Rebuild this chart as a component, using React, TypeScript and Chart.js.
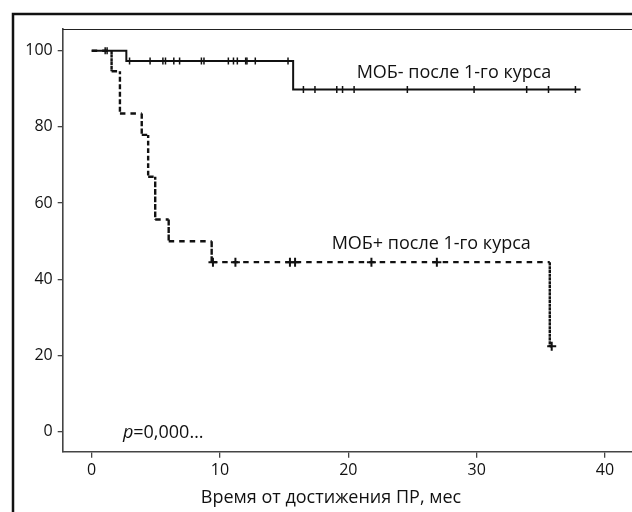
import React, { useEffect, useRef } from 'react';
import { Chart, registerables } from 'chart.js';

Chart.register(...registerables);

// ---- axis ticks ----
const xTickValues = [0, 10, 20, 30, 40];
const yTickValues = [0, 20, 40, 60, 80, 100];

// ---- МОБ- после 1-го курса (solid) ----
const negEventTimes = [2.7, 15.7];
const negSurvival = [97.3, 89.8];
const negEndTime = 38.1;
const negCensorTimes = [
  1.05, 1.2, 2.95, 4.55, 5.55, 5.75, 6.4, 6.85, 8.55, 8.75, 10.65, 11.05, 11.35,
  12.0, 12.1, 12.75, 15.3, 16.5, 17.4, 19.1, 19.55, 20.45, 24.6, 29.8, 33.9, 35.6, 37.7,
];

// ---- МОБ+ после 1-го курса (dashed) ----
const posEventTimes = [1.55, 2.2, 3.9, 4.4, 4.95, 6.0, 9.35, 35.7];
const posSurvival = [94.6, 83.5, 77.9, 66.9, 55.7, 50.0, 44.5, 22.4];
const posEndTime = 35.85;
const posCensorTimes = [9.45, 11.2, 15.45, 15.85, 21.8, 26.9, 35.85];

// ---- texts ----
const labelNeg = 'МОБ- после 1-го курса';
const labelPos = 'МОБ+ после 1-го курса';
const pItalic = 'p';
const pRest = '=0,000…';
const xTitle = 'Время от достижения ПР, мес';

// text anchors (data coordinates)
const negLabelAt = { x: 20.65, y: 92.8 };
const posLabelAt = { x: 18.7, y: 47.9 };
const pLabelAt = { x: 2.43, y: -1.6 };
const xTitleCenterX = 18.65;

type Pt = { x: number; y: number };

function stepPoints(times: number[], surv: number[], end: number): Pt[] {
  const pts: Pt[] = [{ x: 0, y: 100 }];
  let prev = 100;
  times.forEach((t, i) => {
    pts.push({ x: t, y: prev });
    pts.push({ x: t, y: surv[i] });
    prev = surv[i];
  });
  pts.push({ x: end, y: prev });
  return pts;
}

function survivalAt(times: number[], surv: number[], t: number): number {
  let s = 100;
  times.forEach((et, i) => {
    if (et <= t) s = surv[i];
  });
  return s;
}

const FONT = '"Open Sans", "Noto Sans", sans-serif';

const annotPlugin = {
  id: 'annot',
  afterDraw(chart: any) {
    const { ctx, chartArea } = chart;
    const xs = chart.scales.x;
    const ys = chart.scales.y;
    ctx.save();
    // inner top border
    ctx.strokeStyle = '#222';
    ctx.lineWidth = 1.2;
    ctx.beginPath();
    const ty = Math.round(chartArea.top) + 0.5;
    ctx.moveTo(chartArea.left, ty);
    ctx.lineTo(chart.width + 10, ty);
    ctx.stroke();
    // outer frame
    ctx.strokeStyle = '#111';
    ctx.lineWidth = 2.5;
    ctx.strokeRect(13, 14, chart.width + 100, chart.height + 100);

    ctx.fillStyle = '#111';
    ctx.textBaseline = 'alphabetic';
    ctx.textAlign = 'left';
    ctx.font = `18px ${FONT}`;
    ctx.fillText(labelNeg, xs.getPixelForValue(negLabelAt.x), ys.getPixelForValue(negLabelAt.y));
    ctx.fillText(labelPos, xs.getPixelForValue(posLabelAt.x), ys.getPixelForValue(posLabelAt.y));

    // p-value
    const px = xs.getPixelForValue(pLabelAt.x);
    const py = ys.getPixelForValue(pLabelAt.y);
    ctx.font = `italic 18px ${FONT}`;
    ctx.fillText(pItalic, px, py);
    const w = ctx.measureText(pItalic).width;
    ctx.font = `18px ${FONT}`;
    ctx.fillText(pRest, px + w, py);

    // x title
    ctx.textAlign = 'center';
    ctx.fillText(xTitle, xs.getPixelForValue(xTitleCenterX), chart.height - 9.3);
    ctx.restore();
  },
};

export default function App() {
  const ref = useRef<HTMLCanvasElement>(null);

  useEffect(() => {
    if (!ref.current) return;
    const negLine = stepPoints(negEventTimes, negSurvival, negEndTime);
    const posLine = stepPoints(posEventTimes, posSurvival, posEndTime);
    const negCens = negCensorTimes.map((t) => ({ x: t, y: survivalAt(negEventTimes, negSurvival, t) }));
    const posCens = posCensorTimes.map((t) => ({ x: t, y: survivalAt(posEventTimes, posSurvival, t) }));

    const tickFont = { family: FONT, size: 16 };

    const chart = new Chart(ref.current, {
      type: 'line',
      data: {
        datasets: [
          {
            label: labelNeg,
            data: negLine,
            borderColor: '#111',
            borderWidth: 2,
            pointRadius: 0,
            fill: false,
            tension: 0,
          },
          {
            label: labelNeg + ' censored',
            data: negCens,
            showLine: false,
            pointStyle: 'line',
            rotation: 90,
            pointRadius: 3.5,
            pointBorderWidth: 1.5,
            pointBorderColor: '#111',
            pointBackgroundColor: '#111',
          },
          {
            label: labelPos + ' censored',
            data: posCens,
            showLine: false,
            pointStyle: 'cross',
            pointRadius: 4.5,
            pointBorderWidth: 2,
            pointBorderColor: '#111',
            pointBackgroundColor: '#111',
          },
          {
            label: labelPos,
            data: posLine,
            borderColor: '#111',
            borderWidth: 2.4,
            pointRadius: 0,
            fill: false,
            tension: 0,
            segment: {
              borderDash: (c: any) => (c.p0.parsed.x === c.p1.parsed.x ? [3, 4.5] : [5.5, 5]),
            },
          },
        ] as any,
      },
      options: {
        responsive: false,
        animation: false,
        devicePixelRatio: 1,
        layout: { padding: { top: 29, right: 40, bottom: 0, left: 0 } },
        plugins: { legend: { display: false }, tooltip: { enabled: false }, title: { display: false } },
        scales: {
          x: {
            type: 'linear',
            min: -2.26,
            max: 44.29,
            afterBuildTicks: (s: any) => {
              s.ticks = xTickValues.map((v) => ({ value: v }));
            },
            afterFit: (s: any) => {
              s.height = 60.3;
            },
            ticks: { font: tickFont, color: '#111', padding: 3, maxRotation: 0, autoSkip: false },
            grid: { display: true, drawOnChartArea: false, drawTicks: true, tickLength: 6, color: '#444', lineWidth: 1.3 },
            border: { display: true, color: '#444', width: 1.6 },
          },
          y: {
            type: 'linear',
            min: -5.25,
            max: 105.69,
            afterBuildTicks: (s: any) => {
              s.ticks = yTickValues.map((v) => ({ value: v }));
            },
            afterFit: (s: any) => {
              s.width = 62.7;
            },
            ticks: { font: tickFont, color: '#111', padding: 5, autoSkip: false },
            grid: { display: true, drawOnChartArea: false, drawTicks: true, tickLength: 5, color: '#444', lineWidth: 1.3 },
            border: { display: true, color: '#444', width: 1.6 },
          },
        },
      } as any,
      plugins: [annotPlugin],
    });
    return () => chart.destroy();
  }, []);

  return (
    <div style={{ position: 'fixed', left: 0, top: 0, width: 632, height: 512, overflow: 'hidden', background: '#fff' }}>
      <canvas ref={ref} width={700} height={512} style={{ display: 'block', width: 700, height: 512 }} />
    </div>
  );
}
